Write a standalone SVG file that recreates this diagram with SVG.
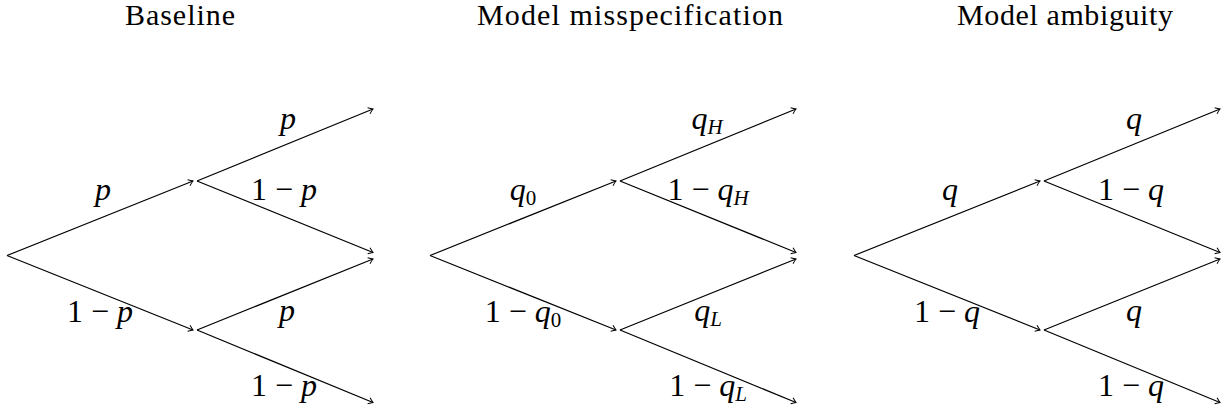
<svg xmlns="http://www.w3.org/2000/svg" width="1222" height="412" viewBox="0 0 1222 412">
<style>
.title{font-family:"Liberation Serif",serif;font-size:30px;fill:#000;text-anchor:middle}
.lab{font-family:"Liberation Serif",serif;font-size:32px;fill:#000;text-anchor:middle}
.v{font-style:italic}
.sub{font-size:21px}
.edge{stroke:#000;stroke-width:1.2;fill:none;marker-end:url(#arr)}
</style>
<defs>
<marker id="arr" markerUnits="userSpaceOnUse" markerWidth="12" markerHeight="12" viewBox="-6 -6 12 12" refX="0" refY="0" orient="auto">
<path d="M-4.5,-3.2 Q-1.6,-0.9 0,0 Q-1.6,0.9 -4.5,3.2" stroke="#000" stroke-width="1" fill="none"/>
</marker>
<g id="treeEdges">
<line x1="7" y1="255.5" x2="193" y2="181"/>
<line x1="7" y1="255.5" x2="193" y2="330"/>
<line x1="197" y1="181" x2="373" y2="109"/>
<line x1="197" y1="181" x2="373" y2="252.5"/>
<line x1="197" y1="330" x2="373" y2="259"/>
<line x1="197" y1="330" x2="373" y2="402.5"/>
</g>
</defs>
<g id="connectors" class="edge">
<use href="#treeEdges"/>
<use href="#treeEdges" x="423"/>
<use href="#treeEdges" x="847"/>
</g>
<g id="baseline">
<text class="title" x="180" y="25" textLength="110" lengthAdjust="spacing">Baseline</text>
<text class="lab" x="103" y="200"><tspan class="v">p</tspan></text>
<text class="lab" x="100" y="322">1 − <tspan class="v">p</tspan></text>
<text class="lab" x="288" y="129"><tspan class="v">p</tspan></text>
<text class="lab" x="284" y="200">1 − <tspan class="v">p</tspan></text>
<text class="lab" x="287" y="321"><tspan class="v">p</tspan></text>
<text class="lab" x="284" y="396">1 − <tspan class="v">p</tspan></text>
</g>
<g id="misspecification">
<text class="title" x="630" y="25" textLength="306" lengthAdjust="spacing">Model misspecification</text>
<text class="lab" x="523" y="200"><tspan class="v">q</tspan><tspan class="sub" dy="5">0</tspan></text>
<text class="lab" x="523" y="322">1 − <tspan class="v">q</tspan><tspan class="sub" dy="5">0</tspan></text>
<text class="lab" x="707" y="129"><tspan class="v">q</tspan><tspan class="sub v" dy="5">H</tspan></text>
<text class="lab" x="708" y="200">1 − <tspan class="v">q</tspan><tspan class="sub v" dy="5">H</tspan></text>
<text class="lab" x="708" y="321"><tspan class="v">q</tspan><tspan class="sub v" dy="5">L</tspan></text>
<text class="lab" x="708" y="396">1 − <tspan class="v">q</tspan><tspan class="sub v" dy="5">L</tspan></text>
</g>
<g id="ambiguity">
<text class="title" x="1065" y="25" textLength="216" lengthAdjust="spacing">Model ambiguity</text>
<text class="lab" x="950" y="200"><tspan class="v">q</tspan></text>
<text class="lab" x="947" y="322">1 − <tspan class="v">q</tspan></text>
<text class="lab" x="1134" y="129"><tspan class="v">q</tspan></text>
<text class="lab" x="1131" y="200">1 − <tspan class="v">q</tspan></text>
<text class="lab" x="1134" y="321"><tspan class="v">q</tspan></text>
<text class="lab" x="1131" y="396">1 − <tspan class="v">q</tspan></text>
</g>
</svg>
